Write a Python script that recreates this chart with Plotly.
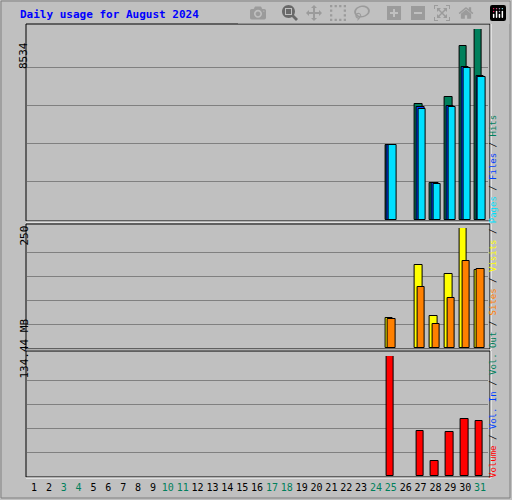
import plotly.graph_objects as go

days = list(range(1, 32))
weekend = [3, 4, 10, 11, 17, 18, 24, 25, 31]

bar_days = [25, 27, 28, 29, 30, 31]
hits = [3351, 5183, 1653, 5496, 7775, 8534]
files = [3351, 5049, 1653, 5094, 6836, 6434]
pages = [3351, 4960, 1600, 5049, 6800, 6389]
visits = [62, 173, 67, 154, 250, 162]
sites = [60, 127, 50, 104, 181, 165]
volume_mb = [134.44, 50.4, 16.8, 49.3, 63.9, 61.6]

W, H = 512, 500
def py(p):
    return 1 - p / H

fig = go.Figure()
line = dict(color="black", width=1)
fig.add_bar(x=bar_days, y=hits, offset=-0.38, width=0.5, marker=dict(color="#00805c", line=line), yaxis="y")
fig.add_bar(x=bar_days, y=files, offset=-0.26, width=0.5, marker=dict(color="#0040ff", line=line), yaxis="y")
fig.add_bar(x=bar_days, y=pages, offset=-0.14, width=0.5, marker=dict(color="#00e0ff", line=line), yaxis="y")
fig.add_bar(x=bar_days, y=visits, offset=-0.38, width=0.5, marker=dict(color="#ffff00", line=line), yaxis="y2")
fig.add_bar(x=bar_days, y=sites, offset=-0.2, width=0.5, marker=dict(color="#ff8000", line=line), yaxis="y2")
fig.add_bar(x=bar_days, y=volume_mb, offset=-0.3, width=0.5, marker=dict(color="#ff0000", line=line), yaxis="y3")

ticktext = [f'<span style="color:#00805c">{d}</span>' if d in weekend else str(d) for d in days]

ygrid = dict(showgrid=True, gridcolor="#808080", gridwidth=1, showticklabels=False,
             zeroline=False, ticks="", anchor="x")
fig.update_layout(
    width=W, height=H, margin=dict(l=0, r=0, t=0, b=0),
    paper_bgcolor="#c0c0c0", plot_bgcolor="#c0c0c0",
    barmode="overlay", showlegend=False, bargap=0,
    font=dict(family="DejaVu Sans Mono", size=11, color="black"),
    xaxis=dict(domain=[26.6 / W, 487.5 / W], range=[0.5, 31.5], tickvals=days, ticktext=ticktext,
               showgrid=False, zeroline=False, anchor="y3", tickfont=dict(size=10), ticks="",
               tickangle=0, ticklabelstandoff=4),
    yaxis=dict(domain=[py(220), py(29)], range=[0, 8534], dtick=8534 / 5, **ygrid),
    yaxis2=dict(domain=[py(348), py(228)], range=[0, 250], dtick=50, **ygrid),
    yaxis3=dict(domain=[py(476), py(356)], range=[0, 134.44], dtick=134.44 / 5, **ygrid),
)

# panel frames
for top, bot in [(24, 221), (224, 349), (351, 477)]:
    fig.add_shape(type="rect", xref="paper", yref="paper", x0=26 / W, x1=490 / W,
                  y0=py(bot), y1=py(top), line=dict(color="black", width=1))
    fig.add_shape(type="line", xref="paper", yref="paper", x0=26 / W, x1=491 / W,
                  y0=py(bot + 1), y1=py(bot + 1), line=dict(color="white", width=1))
    fig.add_shape(type="line", xref="paper", yref="paper", x0=491 / W, x1=491 / W,
                  y0=py(bot + 1), y1=py(top), line=dict(color="white", width=1))
fig.add_shape(type="rect", xref="paper", yref="paper", x0=1 / W, x1=510 / W, y0=py(498), y1=py(1),
              line=dict(color="#808080", width=1))

fig.add_annotation(x=18 / W, y=py(14), xref="paper", yref="paper", xanchor="left", yanchor="middle",
                   text="<b>Daily usage for August 2024</b>", showarrow=False,
                   font=dict(color="#0000ff", size=11))
for txt, yc in [("8534", 40), ("250", 236), ("134.44 MB", 381)]:
    fig.add_annotation(x=15 / W, y=py(yc), xref="paper", yref="paper", text=txt, textangle=-90,
                       showarrow=False, font=dict(size=11))

def c(t, col):
    return f'<span style="color:{col}">{t}</span>'
side = " / ".join([c("Volume", "#ff0000"), c("Vol. In", "#0040ff"), c("Vol. Out", "#00805c"),
                   c("Sites", "#ff8000"), c("Visits", "#ffff00"), c("Pages", "#00e0ff"),
                   c("Files", "#0040ff"), c("Hits", "#00805c")])
fig.add_annotation(x=500 / W, y=py(297), xref="paper", yref="paper", text=side, textangle=-90,
                   showarrow=False, font=dict(size=9))

fig.write_html("out.html", post_script="document.body.style.margin='0';")
